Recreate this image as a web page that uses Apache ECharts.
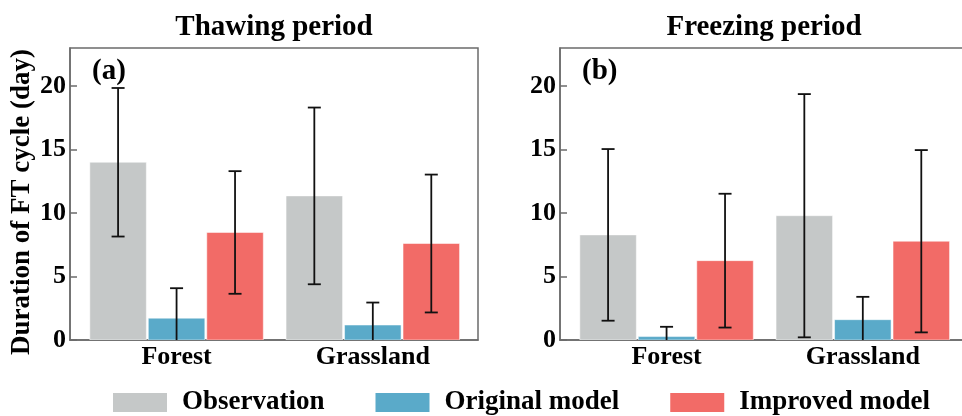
<!DOCTYPE html>
<html><head><meta charset="utf-8">
<script src="https://cdn.jsdelivr.net/npm/echarts@6/dist/echarts.min.js"></script>
<style>html,body{margin:0;padding:0;background:#fff}#c{width:962px;height:416px}</style>
</head><body><div id="c"></div>
<script>
// ---- data ----
const categories = ['Forest', 'Grassland'];
const seriesNames = ['Observation', 'Original model', 'Improved model'];
const panelTitles = ['Thawing period', 'Freezing period'];
const panelLabels = ['(a)', '(b)'];
const yAxisName = 'Duration of FT cycle (day)';
const yTickValues = [0, 5, 10, 15, 20];

// Thawing period: mean and error (+/-)
const thawObsMean = [14.0, 11.35];
const thawObsErr = [5.85, 6.96];
const thawOrigMean = [1.72, 1.18];
const thawOrigErr = [2.36, 1.77];
const thawImpMean = [8.47, 7.6];
const thawImpErr = [4.83, 5.43];

// Freezing period: mean and error (+/-)
const freezeObsMean = [8.28, 9.79];
const freezeObsErr = [6.76, 9.58];
const freezeOrigMean = [0.27, 1.6];
const freezeOrigErr = [0.77, 1.8];
const freezeImpMean = [6.25, 7.78];
const freezeImpErr = [5.27, 7.18];

// ---- style ----
const FONT = "'Liberation Serif','Times New Roman',serif";
const COLORS = ['#c5c8c8', '#5aaac9', '#f26b67'];
const AXIS_COLOR = '#6b6b6b';
const BARW = 0.288, STEP = 0.298;

const panels = [
  { means: [thawObsMean, thawOrigMean, thawImpMean], errs: [thawObsErr, thawOrigErr, thawImpErr] },
  { means: [freezeObsMean, freezeOrigMean, freezeImpMean], errs: [freezeObsErr, freezeOrigErr, freezeImpErr] }
];
const gridLefts = [70, 560];

function makeRender(k) {
  return function (params, api) {
    const cat = api.value(0), mean = api.value(1), err = api.value(2);
    const unit = api.size([1, 0])[0];
    const base = api.coord([cat, 0]);
    const cx = base[0] + (k - 1) * unit * STEP;
    const bw = unit * BARW;
    const top = api.coord([cat, mean])[1];
    const hi = api.coord([cat, mean + err])[1];
    const loVal = Math.max(0, mean - err);
    const lo = api.coord([cat, loVal])[1];
    const ls = { stroke: '#111', lineWidth: 1.8 };
    const children = [
      { type: 'rect', shape: { x: cx - bw / 2, y: top, width: bw, height: base[1] - top },
        style: { fill: api.visual('color'), stroke: 'rgba(255,255,255,0.5)', lineWidth: 1 } },
      { type: 'line', shape: { x1: cx, y1: hi, x2: cx, y2: lo }, style: ls },
      { type: 'line', shape: { x1: cx - 6.5, y1: hi, x2: cx + 6.5, y2: hi }, style: ls }
    ];
    if (mean - err > 0) children.push({ type: 'line', shape: { x1: cx - 6.5, y1: lo, x2: cx + 6.5, y2: lo }, style: ls });
    return { type: 'group', children };
  };
}

const grids = [], xAxes = [], yAxes = [], series = [], graphics = [];
panels.forEach((p, pi) => {
  grids.push({ left: gridLefts[pi], top: 48, width: 408, height: 292, show: true, containLabel: false,
    outerBoundsMode: 'none',
    borderColor: AXIS_COLOR, borderWidth: 1.5, backgroundColor: 'transparent' });
  xAxes.push({ type: 'value', gridIndex: pi, min: -0.543, max: 1.536,
    axisLine: { show: true, onZero: false, lineStyle: { color: AXIS_COLOR, width: 1.5 } },
    axisTick: { show: false }, splitLine: { show: false },
    axisLabel: { customValues: [0, 1], margin: 4, color: '#000', fontFamily: FONT, fontWeight: 'bold', fontSize: 26,
      formatter: v => { const r = Math.round(v); return Math.abs(v - r) < 1e-6 && categories[r] ? categories[r] : ''; } } });
  yAxes.push({ type: 'value', gridIndex: pi, min: 0, max: 23, interval: 5,
    axisLine: { show: true, onZero: false, lineStyle: { color: AXIS_COLOR, width: 1.5 } },
    axisTick: { show: true, inside: true, length: 7, lineStyle: { color: AXIS_COLOR, width: 1.5 } },
    splitLine: { show: false },
    axisLabel: { showMaxLabel: false, margin: 4, color: '#000', fontFamily: FONT, fontWeight: 'bold', fontSize: 26,
      formatter: v => yTickValues.includes(v) ? String(v) : '' } });
  p.means.forEach((m, k) => {
    series.push({ type: 'custom', name: seriesNames[k], xAxisIndex: pi, yAxisIndex: pi,
      itemStyle: { color: COLORS[k] }, encode: { x: 0, y: 1 }, clip: true,
      renderItem: makeRender(k),
      data: categories.map((c, i) => [i, m[i], p.errs[k][i]]) });
  });
  graphics.push({ type: 'text', x: gridLefts[pi] + 204, y: 28,
    style: { text: panelTitles[pi], font: 'bold 29px ' + FONT, fill: '#000', textAlign: 'center', textVerticalAlign: 'middle' } });
  graphics.push({ type: 'text', x: gridLefts[pi] + 22, y: 72,
    style: { text: panelLabels[pi], font: 'bold 29px ' + FONT, fill: '#000', textAlign: 'left', textVerticalAlign: 'middle' } });
});
graphics.push({ type: 'text', x: 22, y: 202, rotation: Math.PI / 2,
  style: { text: yAxisName, font: 'bold 27px ' + FONT, fill: '#000', textAlign: 'center', textVerticalAlign: 'middle' } });

const chart = echarts.init(document.getElementById('c'), null, { renderer: 'canvas' });
chart.setOption({
  animation: false,
  backgroundColor: '#fff',
  grid: grids, xAxis: xAxes, yAxis: yAxes, series,
  graphic: graphics,
  legend: { data: seriesNames, left: 113, top: 389, padding: 0, icon: 'rect', itemWidth: 54, itemHeight: 19, itemGap: 51,
    textStyle: { fontFamily: FONT, fontWeight: 'bold', fontSize: 27, color: '#000', padding: [0, 0, 0, 10] } }
});
</script></body></html>
